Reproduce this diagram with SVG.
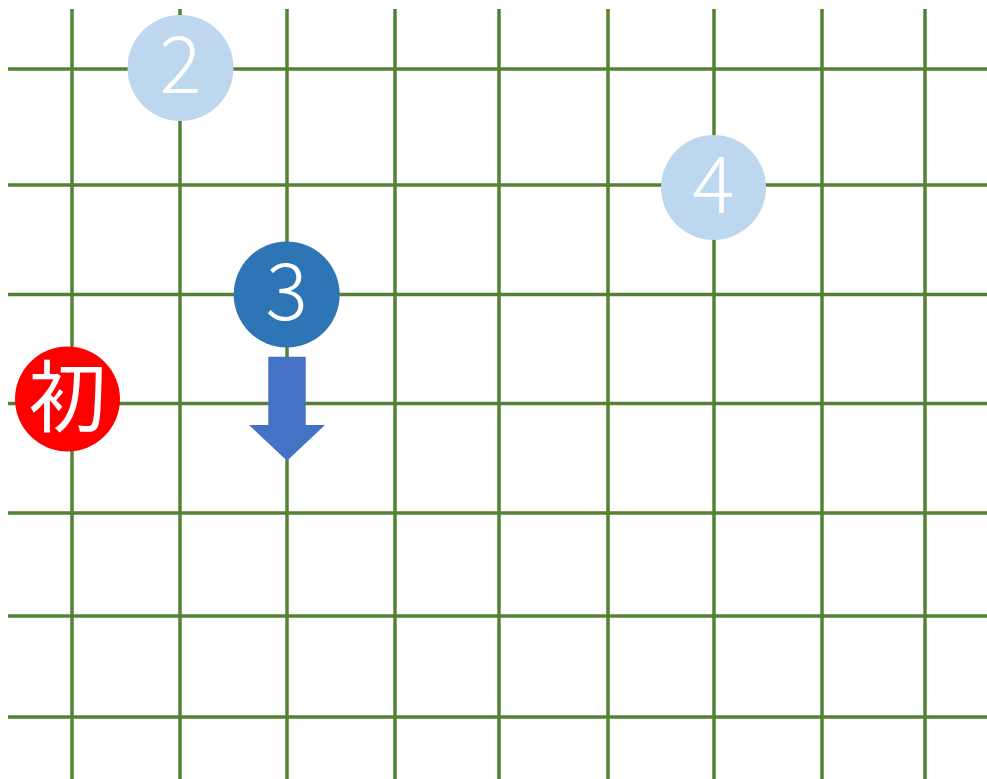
<svg xmlns="http://www.w3.org/2000/svg" width="987" height="779" viewBox="0 0 987 779">
<style>
.g{stroke:#548235;stroke-width:3.5;fill:none}
.t{fill:#fff;font-family:"Noto Sans CJK JP","Noto Sans",sans-serif;font-weight:300;font-size:79px;text-anchor:middle}
.k{font-weight:400;font-size:78px}
</style>
<rect width="987" height="779" fill="#fff"/>
<g id="grid">
<path class="g" d="M72 9V779M180 9V779M287 9V779M395 9V779M499 9V779M608 9V779M714 9V779M822 9V779M925 9V779"/>
<path class="g" d="M8 69H987M8 185H987M8 294.5H987M8 403.5H987M8 513H987M8 616H987M8 717H987"/>
</g>
<g id="node-2"><circle cx="180.5" cy="68" r="53" fill="#BDD7EE"/><text class="t" x="180.5" y="92.5">2</text></g>
<g id="node-4"><circle cx="713.5" cy="187.5" r="52.5" fill="#BDD7EE"/><text class="t" x="713.5" y="212.5">4</text></g>
<g id="node-3"><circle cx="286.7" cy="294.5" r="53" fill="#2E75B6"/><text class="t" x="286.7" y="319.5">3</text></g>
<g id="node-init"><circle cx="67.5" cy="399" r="52.5" fill="#FF0000"/><text class="t k" x="67.5" y="426">初</text></g>
<g id="connectors"><path d="M268.3 356.7H305.7V425H325L287 460.7L249 425H268.3Z" fill="#4472C4"/></g>
</svg>
